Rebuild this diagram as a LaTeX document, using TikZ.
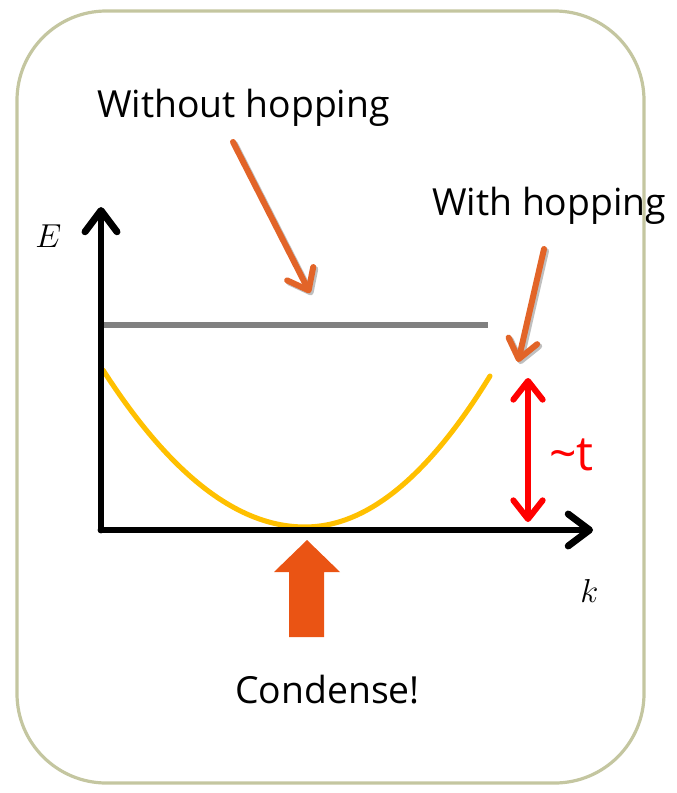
\documentclass[tikz,border=0pt]{standalone}
\usepackage{fontspec}
\setmainfont{Open Sans}
\usetikzlibrary{arrows.meta}
\definecolor{framec}{RGB}{196,198,160}
\definecolor{grayline}{RGB}{128,128,128}
\definecolor{bandc}{RGB}{255,192,0}
\definecolor{pointc}{RGB}{226,100,40}
\definecolor{condc}{RGB}{234,84,20}
\definecolor{redc}{RGB}{255,0,0}
\tikzset{
  axis/.style={line width=5.2pt, line cap=round, -{Straight Barb[length=16pt,width=24pt,round]}},
  pointer/.style={pointc, line width=4.5pt, line cap=round, -{Straight Barb[length=14pt,width=22pt,round]}},
  gap/.style={redc, line width=4.5pt, {Straight Barb[length=14pt,width=22pt,round]}-{Straight Barb[length=14pt,width=22pt,round]}},
  lbl/.style={inner sep=0pt, anchor=base west, font=\fontsize{28}{30}\selectfont},
  shadowed/.style={}
}
\begin{document}
\begin{tikzpicture}[x=0.75pt,y=-0.75pt]
\useasboundingbox (0,0) rectangle (677,793);
% texts
\node[lbl] (without) at (97,117) {Without hopping};
\node[lbl] (with) at (432,215) {With hopping};
\node[lbl] (cond) at (235,703) {Condense!};
\node[inner sep=0pt, anchor=base west, font=\fontsize{27}{30}\selectfont] (E) at (35,247) {$E$};
\node[inner sep=0pt, anchor=base west, font=\fontsize{27}{30}\selectfont] (k) at (580,602) {$k$};
\node[inner sep=0pt, anchor=base west, text=redc, font=\fontsize{36}{40}\selectfont] (t) at (549,470) {\char"007E t};
% frame
\draw[framec, line width=2.4pt, rounded corners=67pt] (17,11) rectangle (644,783);
% coordinates
\coordinate (O) at (101,530);
\coordinate (ytip) at (101,207);
\coordinate (xtip) at (593,530);
% flat band
\draw[grayline, line width=4.5pt] (101,325) -- (488,325);
% dispersion
\coordinate (bl) at (103,370);
\coordinate (bmin) at (305,527);
\coordinate (br) at (490,376);
\draw[bandc, line width=3.8pt, line cap=round]
  (bl) .. controls (170.3,474.7) and (237.7,527) .. (bmin)
       .. controls (366.7,527) and (428.3,476.7) .. (br);
% axes
\draw[axis] (O) -- (ytip);
\draw[axis] (O) -- (xtip);
% pointer arrows
\coordinate (p1s) at (233,142);
\coordinate (p1e) at (310,293);
\draw[black!25, line width=4.5pt, line cap=round, -{Straight Barb[length=14pt,width=22pt,round]}] ([shift={(2,2)}]p1s) -- ([shift={(2,2)}]p1e);
\draw[pointer] (p1s) -- (p1e);
\coordinate (p2s) at (544,249);
\coordinate (p2e) at (518,362);
\draw[black!25, line width=4.5pt, line cap=round, -{Straight Barb[length=14pt,width=22pt,round]}] ([shift={(2,2)}]p2s) -- ([shift={(2,2)}]p2e);
\draw[pointer] (p2s) -- (p2e);
% gap arrow
\coordinate (gtop) at (528,378);
\coordinate (gbot) at (528,522);
\draw[gap] (gtop) -- (gbot);
% condense block arrow
\fill[condc] (307,540) -- (340,572) -- (324,572) -- (324,637) -- (289,637) -- (289,572) -- (274,572) -- cycle;
\end{tikzpicture}
\end{document}
